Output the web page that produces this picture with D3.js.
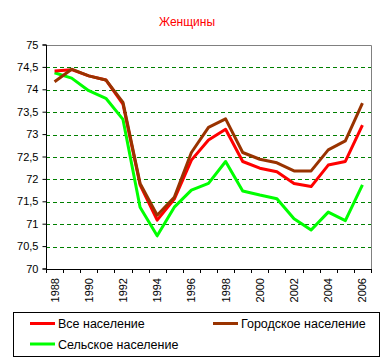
<!DOCTYPE html>
<html><head><meta charset="utf-8">
<script src="https://cdn.jsdelivr.net/npm/d3@7"></script>
<style>body{margin:0;background:#fff}svg{display:block;font-family:"Liberation Sans",Arial,sans-serif}</style>
</head><body><svg id="c" width="386" height="361"></svg>
<script>
const years = [1988,1989,1990,1991,1992,1993,1994,1995,1996,1997,1998,1999,2000,2001,2002,2003,2004,2005,2006];
const allPop   = [74.42,74.45,74.31,74.22,73.68,71.88,71.09,71.56,72.43,72.88,73.12,72.40,72.25,72.17,71.91,71.84,72.32,72.40,73.21];
const urbanPop = [74.18,74.46,74.31,74.22,73.72,71.91,71.20,71.60,72.60,73.16,73.35,72.60,72.45,72.37,72.19,72.19,72.66,72.86,73.70];
const ruralPop = [74.38,74.26,73.98,73.81,73.34,71.38,70.74,71.38,71.76,71.91,72.40,71.74,71.65,71.57,71.12,70.87,71.27,71.08,71.88];
const yTicks = [70,70.5,71,71.5,72,72.5,73,73.5,74,74.5,75];
const xLabels = [1988,1990,1992,1994,1996,1998,2000,2002,2004,2006];
const series = [
  {name:"Все население", values:allPop, color:"#ff0000"},
  {name:"Городское население", values:urbanPop, color:"#993300"},
  {name:"Сельское население", values:ruralPop, color:"#00ff00"}
];
const drawOrder = [2,0,1];

const svg = d3.select("#c");
const L=46,R=371,T=45,B=269;
const x = d3.scaleBand().domain(years).range([L,R]);
const y = d3.scaleLinear().domain([70,75]).range([B,T]);
const fmt = v => String(v).replace(".", ",");

svg.append("text").attr("x",187).attr("y",26).attr("text-anchor","middle")
  .attr("fill","#ff0000").attr("font-size",12).text("Женщины");

// grid
svg.append("g").selectAll("line").data(yTicks.filter(v=>v>70&&v<75)).join("line")
  .attr("x1",L).attr("x2",R).attr("y1",d=>Math.round(y(d))+0.5).attr("y2",d=>Math.round(y(d))+0.5)
  .attr("stroke","#008000").attr("stroke-dasharray","4,3");
// frame top/right
svg.append("path").attr("d",`M${L},${T+0.5}H${R+0.5}V${B}`).attr("fill","none").attr("stroke","#808080");

// y axis
const ya = svg.append("g").attr("transform",`translate(${L+0.5},0)`)
  .call(d3.axisLeft(y).tickValues(yTicks).tickFormat(fmt).tickSize(4).tickPadding(4).offset(0));
ya.select(".domain").attr("stroke","#000");
ya.selectAll(".tick line").attr("stroke","#000");
ya.selectAll("text").attr("font-size",11).attr("fill","#000").attr("font-family","Liberation Sans, Arial, sans-serif");

// x axis
const xa = svg.append("g").attr("transform",`translate(0,${B+0.5})`)
  .call(d3.axisBottom(x).tickValues([]).tickSize(0).offset(0));
xa.select(".domain").attr("stroke","#000");
const step = x.step();
svg.append("g").selectAll("line").data(d3.range(years.length+1)).join("line")
  .attr("x1",i=>Math.round(L+i*step)+0.5).attr("x2",i=>Math.round(L+i*step)+0.5)
  .attr("y1",B).attr("y2",B+4).attr("stroke","#000");
svg.append("g").selectAll("text").data(xLabels).join("text")
  .attr("transform",d=>`translate(${x(d)+x.bandwidth()/2+4},${B+9}) rotate(-90)`)
  .attr("text-anchor","end").attr("font-size",11).attr("fill","#000").text(d=>d);

// lines
const line = d3.line().x((d,i)=>x(years[i])+x.bandwidth()/2).y(d=>y(d));
svg.append("g").selectAll("path").data(drawOrder.map(i=>series[i])).join("path")
  .attr("d",d=>line(d.values)).attr("fill","none").attr("stroke",d=>d.color)
  .attr("stroke-width",3).attr("stroke-linejoin","round");

// legend
const lg = svg.append("g");
lg.append("rect").attr("x",13.5).attr("y",312.5).attr("width",366).attr("height",44)
  .attr("fill","#fff").attr("stroke","#000");
const pos = [[30,323.5],[213,323.5],[30,344]];
series.forEach((s,i)=>{
  const [px,py]=pos[i];
  lg.append("line").attr("x1",px).attr("x2",px+25).attr("y1",py).attr("y2",py)
    .attr("stroke",s.color).attr("stroke-width",3);
  lg.append("text").attr("x",px+28).attr("y",py+4.5).attr("font-size",12.5).attr("fill","#000").text(s.name);
});
</script></body></html>
